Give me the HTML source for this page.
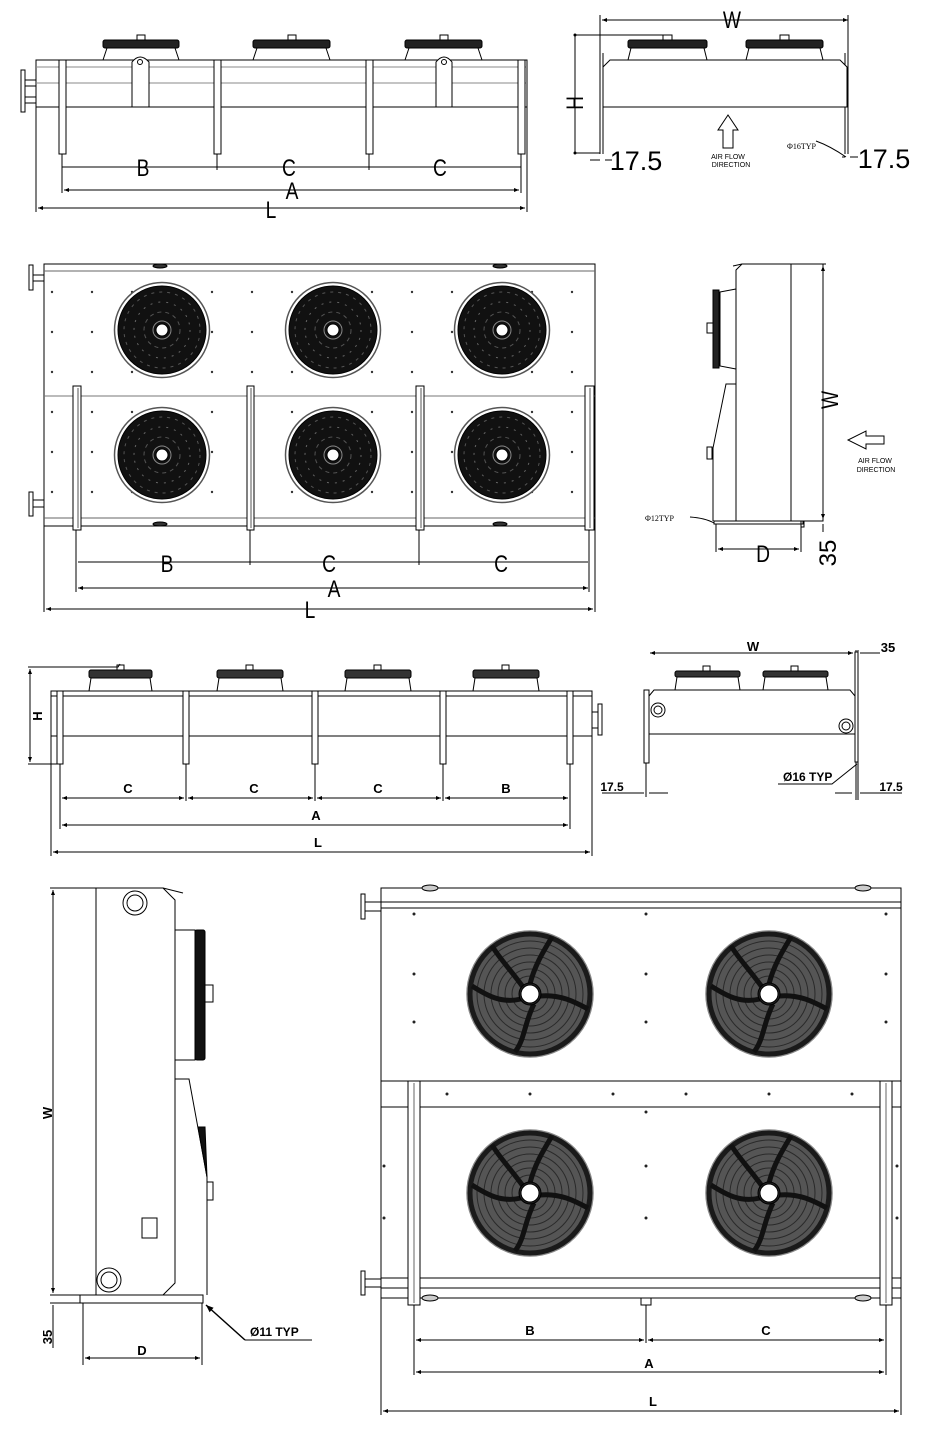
<!DOCTYPE html>
<html><head><meta charset="utf-8"><style>
html,body{margin:0;padding:0;background:#fff;}
svg{display:block}
text{font-family:"Liberation Sans",sans-serif;fill:#000}
.big{font-size:24px}
.dl{font-size:13px;font-weight:bold}
</style></head><body>
<svg width="930" height="1439" viewBox="0 0 930 1439" xmlns="http://www.w3.org/2000/svg">
<defs>
<marker id="ar" viewBox="0 0 10 10" refX="10" refY="5" markerWidth="7" markerHeight="5" orient="auto-start-reverse"><path d="M0,1 L10,5 L0,9 Z" fill="#000"/></marker>
<marker id="dt" viewBox="0 0 4 4" refX="2" refY="2" markerWidth="3" markerHeight="3"><circle cx="2" cy="2" r="2" fill="#000"/></marker>
<pattern id="dots2" x="0" y="0" width="40" height="40" patternUnits="userSpaceOnUse"><circle cx="12" cy="12" r="1.2" fill="#333"/></pattern>
<g id="fanA">
 <circle r="47.5" fill="#fff" stroke="#555" stroke-width="1.5"/>
 <circle r="44" fill="#111"/>
 <circle r="38" fill="none" stroke="#555" stroke-width="1" stroke-dasharray="3 5"/>
 <circle r="28" fill="none" stroke="#666" stroke-width="1" stroke-dasharray="2 6"/>
 <circle r="18" fill="none" stroke="#555" stroke-width="1" stroke-dasharray="4 4"/>
 <circle r="9" fill="#111" stroke="#888"/>
 <circle r="6" fill="#fff"/>
</g>
<g id="fanB">
 <circle r="63" fill="#fff" stroke="#888" stroke-width="1.5"/>
 <circle r="60" fill="#555" stroke="#1a1a1a" stroke-width="5"/>
 <circle r="53" fill="none" stroke="#2a2a2a" stroke-width="1"/>
 <circle r="46" fill="none" stroke="#2a2a2a" stroke-width="1"/>
 <circle r="39" fill="none" stroke="#2a2a2a" stroke-width="1"/>
 <circle r="32" fill="none" stroke="#2a2a2a" stroke-width="1"/>
 <circle r="25" fill="none" stroke="#2a2a2a" stroke-width="1"/>
 <circle r="18" fill="none" stroke="#2a2a2a" stroke-width="1"/>
 <g fill="none" stroke="#111" stroke-width="5">
  <path d="M0,-10 C5,-30 15,-45 22,-57"/>
  <path d="M10,2 C30,0 45,8 58,15"/>
  <path d="M4,10 C-6,30 -5,45 -15,58"/>
  <path d="M-9,5 C-30,10 -45,0 -58,-8"/>
  <path d="M-7,-7 C-20,-25 -30,-35 -38,-48"/>
 </g>
 <circle r="11" fill="#222"/>
 <circle r="9" fill="#fff"/>
</g>
</defs>

<g stroke="#000" fill="none" stroke-width="1">
<!-- ===== SECTION 1 front view ===== -->
<rect x="36" y="60" width="491" height="47" fill="#fff"/>
<line x1="36" y1="67" x2="527" y2="67" stroke="#888"/>
<line x1="36" y1="83" x2="527" y2="83" stroke="#888"/>
<rect x="21" y="70" width="4" height="42"/>
<path d="M25,80 H36 M25,86 H36 M25,97 H36 M25,103 H36"/>
<g>
 <rect x="103" y="40" width="76" height="8" rx="2" fill="#222"/><path d="M107,48 L103,60 M175,48 L179,60"/><rect x="137" y="35" width="8" height="5"/>
 <rect x="253" y="40" width="77" height="8" rx="2" fill="#222"/><path d="M257,48 L253,60 M326,48 L330,60"/><rect x="288" y="35" width="8" height="5"/>
 <rect x="405" y="40" width="77" height="8" rx="2" fill="#222"/><path d="M409,48 L405,60 M478,48 L482,60"/><rect x="440" y="35" width="8" height="5"/>
</g>
<g fill="#fff">
 <rect x="59" y="60" width="7" height="94"/><rect x="214" y="60" width="7" height="94"/><rect x="366" y="60" width="7" height="94"/><rect x="518" y="60" width="7" height="94"/>
 <path d="M132,107 V62 Q140,52 149,62 V107 Z"/><path d="M436,107 V62 Q444,52 452,62 V107 Z"/>
</g>
<circle cx="140" cy="62" r="2.5"/><circle cx="444" cy="62" r="2.5"/>
<path d="M62,154 V193 M217,154 V170 M369,154 V170 M521,154 V193 M36,107 V212 M527,107 V212"/>
<line x1="62" y1="167" x2="521" y2="167"/>
<line x1="64" y1="190" x2="519" y2="190" marker-start="url(#ar)" marker-end="url(#ar)"/>
<line x1="38" y1="208" x2="525" y2="208" marker-start="url(#ar)" marker-end="url(#ar)"/>

<!-- top right view -->
<line x1="602" y1="20" x2="848" y2="20" marker-start="url(#ar)" marker-end="url(#ar)"/>
<path d="M600,15 V154 M848,15 V154 M603,53 V154 M845,53 V154"/>
<path d="M603,67 L610,60 H840 L847,67 V107 H603 Z" fill="#fff"/>
<rect x="628" y="40" width="79" height="8" rx="2" fill="#222"/><path d="M631,48 L628,60 M704,48 L707,60"/><rect x="663" y="35" width="9" height="5"/>
<rect x="746" y="40" width="77" height="8" rx="2" fill="#222"/><path d="M749,48 L746,60 M820,48 L823,60"/><rect x="780" y="35" width="9" height="5"/>
<line x1="575" y1="35" x2="575" y2="153" marker-start="url(#dt)" marker-end="url(#dt)"/>
<path d="M575,35 H665 M575,153 H600"/>
<path d="M590,160 H600 M605,160 H612 M842,157 H845 M850,157 H858"/>
<path d="M816,141 Q830,146 846,157"/>
<path d="M723,148 V130 H718 L728,115 L738,130 H733 V148 Z"/>

<!-- ===== SECTION 2 plan view ===== -->
<rect x="44" y="264" width="551" height="262" fill="url(#dots2)"/>
<line x1="44" y1="271" x2="595" y2="271" stroke="#666"/>
<line x1="44" y1="396" x2="595" y2="396" stroke="#777"/>
<line x1="44" y1="518" x2="595" y2="518" stroke="#666"/>
<ellipse cx="160" cy="266" rx="7" ry="2" fill="#333"/><ellipse cx="500" cy="266" rx="7" ry="2" fill="#333"/>
<ellipse cx="160" cy="524" rx="7" ry="2" fill="#333"/><ellipse cx="500" cy="524" rx="7" ry="2" fill="#333"/>
<rect x="29" y="265" width="4" height="25"/><path d="M33,275 H44 M33,281 H44"/>
<rect x="29" y="492" width="4" height="24"/><path d="M33,500 H44 M33,507 H44"/>
<use href="#fanA" x="162" y="330"/><use href="#fanA" x="333" y="330"/><use href="#fanA" x="502" y="330"/>
<use href="#fanA" x="162" y="455"/><use href="#fanA" x="333" y="455"/><use href="#fanA" x="502" y="455"/>
<g fill="#fff">
 <rect x="73" y="386" width="8" height="144"/><rect x="247" y="386" width="7" height="144"/><rect x="416" y="386" width="8" height="144"/><rect x="585" y="386" width="9" height="144"/>
</g>
<path d="M78,388 V528 M251,388 V528 M421,388 V528 M590,388 V528" stroke="#555"/>
<path d="M76,530 V592 M250,530 V565 M419,530 V565 M589,530 V592 M44,526 V612 M595,526 V612"/>
<line x1="78" y1="562" x2="588" y2="562"/>
<line x1="78" y1="588" x2="588" y2="588" marker-start="url(#ar)" marker-end="url(#ar)"/>
<line x1="46" y1="609" x2="593" y2="609" marker-start="url(#ar)" marker-end="url(#ar)"/>

<!-- side view 2 -->
<path d="M736,270 L742,264 H823 V521 H736 Z" fill="#fff"/>
<path d="M733,266 L742,264"/>
<line x1="791" y1="264" x2="791" y2="521"/>
<path d="M720,292 L736,289 V369 L720,366 Z"/>
<rect x="713" y="290" width="6" height="78" fill="#222"/>
<rect x="707" y="323" width="6" height="10"/>
<path d="M736,384 H726 L713,448 V521"/>
<rect x="707" y="447" width="5" height="12"/>
<rect x="714" y="521" width="89" height="3"/>
<rect x="801" y="521" width="3" height="6"/>
<line x1="823" y1="266" x2="823" y2="519" marker-start="url(#ar)" marker-end="url(#ar)"/>
<path d="M791,264 H826 M716,524 V552 M801,524 V552 M823,524 V532"/>
<line x1="718" y1="549" x2="799" y2="549" marker-start="url(#ar)" marker-end="url(#ar)"/>
<path d="M690,517 Q705,518 714,523"/>
<path d="M884,436 H866 V431 L848,440 L866,449 V444 H884 Z"/>

<!-- ===== SECTION 3 ===== -->
<rect x="51" y="691" width="541" height="45" fill="#fff"/>
<line x1="51" y1="696" x2="592" y2="696"/>
<rect x="592" y="712" width="6" height="16"/><rect x="598" y="704" width="4" height="31"/>
<g>
 <rect x="89" y="670" width="63" height="8" rx="2" fill="#333"/><path d="M91,678 L89,691 M150,678 L152,691"/><rect x="117" y="665" width="7" height="5"/>
 <rect x="217" y="670" width="66" height="8" rx="2" fill="#333"/><path d="M219,678 L217,691 M281,678 L283,691"/><rect x="246" y="665" width="7" height="5"/>
 <rect x="345" y="670" width="66" height="8" rx="2" fill="#333"/><path d="M347,678 L345,691 M409,678 L411,691"/><rect x="374" y="665" width="7" height="5"/>
 <rect x="473" y="670" width="66" height="8" rx="2" fill="#333"/><path d="M475,678 L473,691 M537,678 L539,691"/><rect x="502" y="665" width="7" height="5"/>
</g>
<g fill="#fff"><rect x="57" y="691" width="6" height="73"/><rect x="183" y="691" width="6" height="73"/><rect x="312" y="691" width="6" height="73"/><rect x="440" y="691" width="6" height="73"/><rect x="567" y="691" width="6" height="73"/></g>
<line x1="30" y1="669" x2="30" y2="762" marker-start="url(#ar)" marker-end="url(#ar)"/>
<path d="M28,667 H118 L120,664 M28,764 H60"/>
<path d="M60,764 V829 M186,764 V801 M315,764 V801 M443,764 V801 M570,764 V829 M51,736 V856 M592,736 V856"/>
<line x1="62" y1="798" x2="184" y2="798" marker-start="url(#ar)" marker-end="url(#ar)"/>
<line x1="188" y1="798" x2="313" y2="798" marker-start="url(#ar)" marker-end="url(#ar)"/>
<line x1="317" y1="798" x2="441" y2="798" marker-start="url(#ar)" marker-end="url(#ar)"/>
<line x1="445" y1="798" x2="568" y2="798" marker-start="url(#ar)" marker-end="url(#ar)"/>
<line x1="62" y1="825" x2="568" y2="825" marker-start="url(#ar)" marker-end="url(#ar)"/>
<line x1="53" y1="852" x2="590" y2="852" marker-start="url(#ar)" marker-end="url(#ar)"/>

<!-- section 3 right -->
<line x1="650" y1="653" x2="853" y2="653" marker-start="url(#ar)" marker-end="url(#ar)"/>
<path d="M860,653 H880" />
<path d="M649,696 L654,690 H850 L855,696 V734 H649 Z" fill="#fff"/>
<rect x="644" y="690" width="5" height="73" fill="#fff"/>
<path d="M646,763 V797 M856,650 V800 M858,650 V800"/>
<rect x="855" y="652" width="3" height="110" fill="#fff"/>
<rect x="675" y="671" width="65" height="6" rx="2" fill="#333"/><path d="M677,677 L675,690 M738,677 L740,690"/><rect x="703" y="666" width="7" height="5"/>
<rect x="763" y="671" width="65" height="6" rx="2" fill="#333"/><path d="M765,677 L763,690 M826,677 L828,690"/><rect x="791" y="666" width="7" height="5"/>
<circle cx="658" cy="710" r="7"/><circle cx="658" cy="710" r="4"/>
<circle cx="846" cy="726" r="7"/><circle cx="846" cy="726" r="4"/>
<path d="M602,793 H640 L644,793 M649,793 H668"/>
<path d="M835,793 H852 M860,793 H902"/>
<path d="M778,784 H832 L857,764"/>

<!-- ===== SECTION 4 left side view ===== -->
<path d="M96,888 H163 L175,900 V1283 L163,1295 H96 Z" fill="#fff"/>
<path d="M163,888 L183,893"/>
<circle cx="135" cy="903" r="12"/><circle cx="135" cy="903" r="8"/>
<circle cx="109" cy="1280" r="12"/><circle cx="109" cy="1280" r="8"/>
<rect x="175" y="930" width="20" height="130"/>
<rect x="195" y="930" width="10" height="130" rx="2" fill="#111"/>
<rect x="205" y="985" width="8" height="17"/>
<path d="M175,1079 H189 L207,1177 V1295"/>
<path d="M198,1127 L205,1127 L207,1177 Z" fill="#111"/>
<rect x="207" y="1182" width="6" height="18"/>
<rect x="142" y="1218" width="15" height="20"/>
<rect x="80" y="1295" width="123" height="8" fill="#fff"/>
<line x1="53" y1="890" x2="53" y2="1293" marker-start="url(#ar)" marker-end="url(#ar)"/>
<path d="M50,888 H96 M50,1295 H80 M50,1303 H80"/>
<line x1="53" y1="1305" x2="53" y2="1348"/>
<path d="M83,1303 V1365 M202,1303 V1365"/>
<line x1="85" y1="1358" x2="200" y2="1358" marker-start="url(#ar)" marker-end="url(#ar)"/>
<line x1="245" y1="1340" x2="206" y2="1305" marker-end="url(#ar)" stroke-width="1.5"/>
<path d="M245,1340 H312"/>

<!-- ===== SECTION 4 right plan view ===== -->
<rect x="381" y="888" width="520" height="410" fill="#fff"/>
<path d="M381,902 H901 M381,908 H901 M381,1081 H901 M381,1107 H901 M381,1278 H901 M381,1288 H901"/>
<rect x="361" y="894" width="4" height="25"/><path d="M365,902 H381 M365,911 H381"/>
<rect x="361" y="1271" width="4" height="24"/><path d="M365,1279 H381 M365,1287 H381"/>
<ellipse cx="430" cy="888" rx="8" ry="3" fill="#ccc"/><ellipse cx="863" cy="888" rx="8" ry="3" fill="#ccc"/>
<ellipse cx="430" cy="1298" rx="8" ry="3" fill="#ccc"/><ellipse cx="863" cy="1298" rx="8" ry="3" fill="#ccc"/>
<use href="#fanB" x="530" y="994"/><use href="#fanB" x="769" y="994"/>
<use href="#fanB" x="530" y="1193"/><use href="#fanB" x="769" y="1193"/>
<g fill="#fff"><rect x="408" y="1081" width="12" height="224"/><rect x="880" y="1081" width="12" height="224"/><rect x="641" y="1298" width="10" height="7"/></g>
<path d="M414,1083 V1303 M886,1083 V1303" stroke="#666"/>
<g fill="#222" stroke="none">
<circle cx="414" cy="974" r="1.5"/><circle cx="646" cy="974" r="1.5"/><circle cx="886" cy="974" r="1.5"/>
<circle cx="414" cy="1022" r="1.5"/><circle cx="646" cy="1022" r="1.5"/><circle cx="886" cy="1022" r="1.5"/>
<circle cx="414" cy="914" r="1.5"/><circle cx="646" cy="914" r="1.5"/><circle cx="886" cy="914" r="1.5"/>
<circle cx="646" cy="1166" r="1.5"/><circle cx="646" cy="1218" r="1.5"/><circle cx="646" cy="1112" r="1.5"/>
<circle cx="447" cy="1094" r="1.5"/><circle cx="530" cy="1094" r="1.5"/><circle cx="613" cy="1094" r="1.5"/><circle cx="686" cy="1094" r="1.5"/><circle cx="769" cy="1094" r="1.5"/><circle cx="852" cy="1094" r="1.5"/>
<circle cx="384" cy="1166" r="1.5"/><circle cx="897" cy="1166" r="1.5"/><circle cx="384" cy="1218" r="1.5"/><circle cx="897" cy="1218" r="1.5"/>
</g>
<path d="M414,1305 V1375 M646,1305 V1343 M886,1305 V1375 M381,1298 V1415 M901,1298 V1415"/>
<line x1="416" y1="1340" x2="644" y2="1340" marker-start="url(#ar)" marker-end="url(#ar)"/>
<line x1="648" y1="1340" x2="884" y2="1340" marker-start="url(#ar)" marker-end="url(#ar)"/>
<line x1="416" y1="1372" x2="884" y2="1372" marker-start="url(#ar)" marker-end="url(#ar)"/>
<line x1="383" y1="1411" x2="899" y2="1411" marker-start="url(#ar)" marker-end="url(#ar)"/>
</g>

<!-- ===== TEXT ===== -->
<g text-anchor="middle">
<text x="143" y="176" class="big" transform="translate(143 0) scale(0.8 1) translate(-143 0)">B</text>
<text x="289" y="176" class="big" transform="translate(289 0) scale(0.8 1) translate(-289 0)">C</text>
<text x="440" y="176" class="big" transform="translate(440 0) scale(0.8 1) translate(-440 0)">C</text>
<text x="292" y="199" class="big" transform="translate(292 0) scale(0.8 1) translate(-292 0)">A</text>
<text x="271" y="218" class="big" transform="translate(271 0) scale(0.8 1) translate(-271 0)">L</text>
<text x="732" y="28" class="big" transform="translate(732 0) scale(0.8 1) translate(-732 0)">W</text>
<text x="0" y="0" class="big" transform="translate(583 103) rotate(-90) scale(0.8 1)">H</text>
<text x="636" y="170" style="font-size:27px">17.5</text>
<text x="884" y="168" style="font-size:27px">17.5</text>
<text x="728" y="159" style="font-size:7px">AIR FLOW</text>
<text x="731" y="167" style="font-size:7px">DIRECTION</text>
<text x="167" y="572" class="big" transform="translate(167 0) scale(0.8 1) translate(-167 0)">B</text>
<text x="329" y="572" class="big" transform="translate(329 0) scale(0.8 1) translate(-329 0)">C</text>
<text x="501" y="572" class="big" transform="translate(501 0) scale(0.8 1) translate(-501 0)">C</text>
<text x="334" y="597" class="big" transform="translate(334 0) scale(0.8 1) translate(-334 0)">A</text>
<text x="310" y="618" class="big" transform="translate(310 0) scale(0.8 1) translate(-310 0)">L</text>
<text x="0" y="0" class="big" transform="translate(838 400) rotate(-90) scale(0.8 1)">W</text>
<text x="763" y="562" class="big" transform="translate(763 0) scale(0.8 1) translate(-763 0)">D</text>
<text x="0" y="0" class="big" transform="translate(836 553) rotate(-90)">35</text>
<text x="875" y="463" style="font-size:7px">AIR FLOW</text>
<text x="876" y="472" style="font-size:7px">DIRECTION</text>
<text x="0" y="0" class="dl" transform="translate(42 716) rotate(-90)">H</text>
<text x="128" y="793" class="dl">C</text>
<text x="254" y="793" class="dl">C</text>
<text x="378" y="793" class="dl">C</text>
<text x="506" y="793" class="dl">B</text>
<text x="316" y="820" class="dl">A</text>
<text x="318" y="847" class="dl">L</text>
<text x="753" y="651" class="dl">W</text>
<text x="888" y="652" class="dl">35</text>
<text x="612" y="791" class="dl" style="font-size:12px">17.5</text>
<text x="891" y="791" class="dl" style="font-size:12px">17.5</text>
<text x="0" y="0" class="dl" transform="translate(52 1113) rotate(-90)">W</text>
<text x="0" y="0" class="dl" transform="translate(52 1337) rotate(-90)">35</text>
<text x="142" y="1355" class="dl">D</text>
<text x="530" y="1335" class="dl">B</text>
<text x="766" y="1335" class="dl">C</text>
<text x="649" y="1368" class="dl">A</text>
<text x="653" y="1406" class="dl">L</text>
</g>
<text x="787" y="149" style="font-size:8px;font-family:'Liberation Serif',serif">Φ16TYP</text>
<text x="645" y="521" style="font-size:8px;font-family:'Liberation Serif',serif">Φ12TYP</text>
<text x="783" y="781" class="dl" style="font-size:12px">Ø16 TYP</text>
<text x="250" y="1336" class="dl" style="font-size:12px">Ø11 TYP</text>
</svg>
</body></html>
